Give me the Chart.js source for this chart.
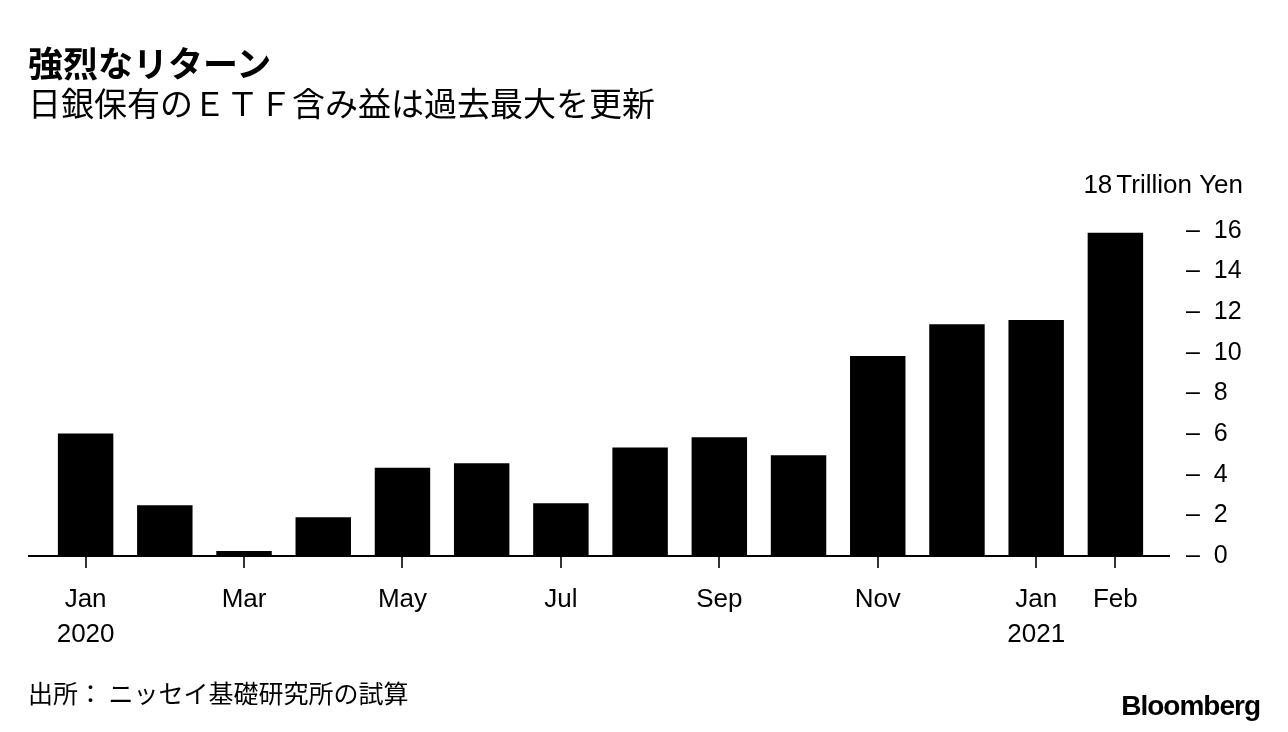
<!DOCTYPE html>
<html>
<head>
<meta charset="utf-8">
<script src="https://cdn.jsdelivr.net/npm/chart.js@4"></script>
<style>
  html, body { margin: 0; padding: 0; background: #fff; }
  body { width: 1288px; height: 732px; position: relative; overflow: hidden;
         font-family: "Liberation Sans", "Noto Sans CJK JP", sans-serif; color: #000; }
  #wrap { position: absolute; left: 0; top: 0; width: 1288px; height: 732px; }
  .t { position: absolute; white-space: nowrap; line-height: 1.2; font-family: "Noto Sans CJK JP", sans-serif; }
  #title { left: 28px; top: 41px; font-size: 35px; font-weight: bold; }
  #subtitle { left: 28px; top: 83px; font-size: 33px; }
  #source { left: 28px; top: 677px; font-size: 25px; }
  #logo { right: 28px; top: 689px; font-size: 28px; font-weight: bold; letter-spacing: -1px;
          font-family: "Liberation Sans", sans-serif; }
</style>
</head>
<body>
<div id="wrap"><canvas id="chart"></canvas></div>
<div class="t" id="title">強烈なリターン</div>
<div class="t" id="subtitle">日銀保有のＥＴＦ含み益は過去最大を更新</div>
<div class="t" id="source">出所： ニッセイ基礎研究所の試算</div>
<div class="t" id="logo">Bloomberg</div>
<script>
// データ
const months = ["Jan", "Feb", "Mar", "Apr", "May", "Jun", "Jul", "Aug", "Sep", "Oct", "Nov", "Dec", "Jan", "Feb"];
const monthLabels = [["Jan", "2020"], "", "Mar", "", "May", "", "Jul", "", "Sep", "", "Nov", "", ["Jan", "2021"], "Feb"];
const gains = [6.03, 2.49, 0.25, 1.90, 4.34, 4.56, 2.59, 5.33, 5.84, 4.95, 9.84, 11.40, 11.61, 15.9];
const yTicks = [0, 2, 4, 6, 8, 10, 12, 14, 16, 18];
const unitLabel = "Trillion Yen";

// 軸線と単位ラベル
const extras = {
    id: "extras",
    afterDraw(chart) {
        const ctx = chart.ctx;
        const y = chart.scales.y;
        const y0 = y.getPixelForValue(0);
        ctx.save();
        ctx.strokeStyle = "#000";
        ctx.lineWidth = 2;
        ctx.beginPath();
        ctx.moveTo(28, y0);
        ctx.lineTo(1170, y0);
        ctx.stroke();
        ctx.fillStyle = "#000";
        ctx.font = "26px 'Liberation Sans', sans-serif";
        ctx.textAlign = "right";
        ctx.textBaseline = "middle";
        const yTop = y.getPixelForValue(yTicks[yTicks.length - 1]) - 4;
        ctx.fillText(unitLabel, 1243, yTop);
        const w = ctx.measureText(unitLabel).width;
        ctx.fillText(String(yTicks[yTicks.length - 1]), 1243 - w - 4, yTop);
        ctx.restore();
    }
};

new Chart(document.getElementById("chart"), {
    type: "bar",
    data: {
        labels: months,
        datasets: [{
            data: gains,
            backgroundColor: "#000",
            borderWidth: 0,
            barPercentage: 0.7,
            categoryPercentage: 1.0
        }]
    },
    options: {
        responsive: true,
        maintainAspectRatio: false,
        animation: false,
        layout: { padding: { left: 46, top: 190, right: 0, bottom: 0 } },
        plugins: {
            legend: { display: false },
            tooltip: { enabled: false }
        },
        scales: {
            x: {
                offset: true,
                afterFit: (scale) => { scale.height = 176; },
                border: { display: false },
                grid: {
                    offset: false,
                    drawOnChartArea: false,
                    drawTicks: true,
                    tickLength: 12,
                    lineWidth: 2,
                    color: (c) => monthLabels[c.index] ? "#333" : "rgba(0,0,0,0)"
                },
                ticks: {
                    autoSkip: false,
                    maxRotation: 0,
                    padding: 14,
                    color: "#000",
                    font: { family: "'Liberation Sans', sans-serif", size: 26, lineHeight: 1.35 },
                    callback: (v, i) => monthLabels[i]
                }
            },
            y: {
                position: "right",
                min: 0,
                max: 18,
                afterFit: (scale) => { scale.width = 133; },
                afterBuildTicks: (scale) => { scale.ticks = yTicks.map(v => ({ value: v })); },
                border: { display: false },
                grid: { display: false, drawTicks: false },
                ticks: {
                    padding: 31,
                    color: "#000",
                    font: { family: "'Liberation Sans', sans-serif", size: 25 },
                    callback: (v) => v === yTicks[yTicks.length - 1] ? "" : "–  " + v
                }
            }
        }
    },
    plugins: [extras]
});
</script>
</body>
</html>
